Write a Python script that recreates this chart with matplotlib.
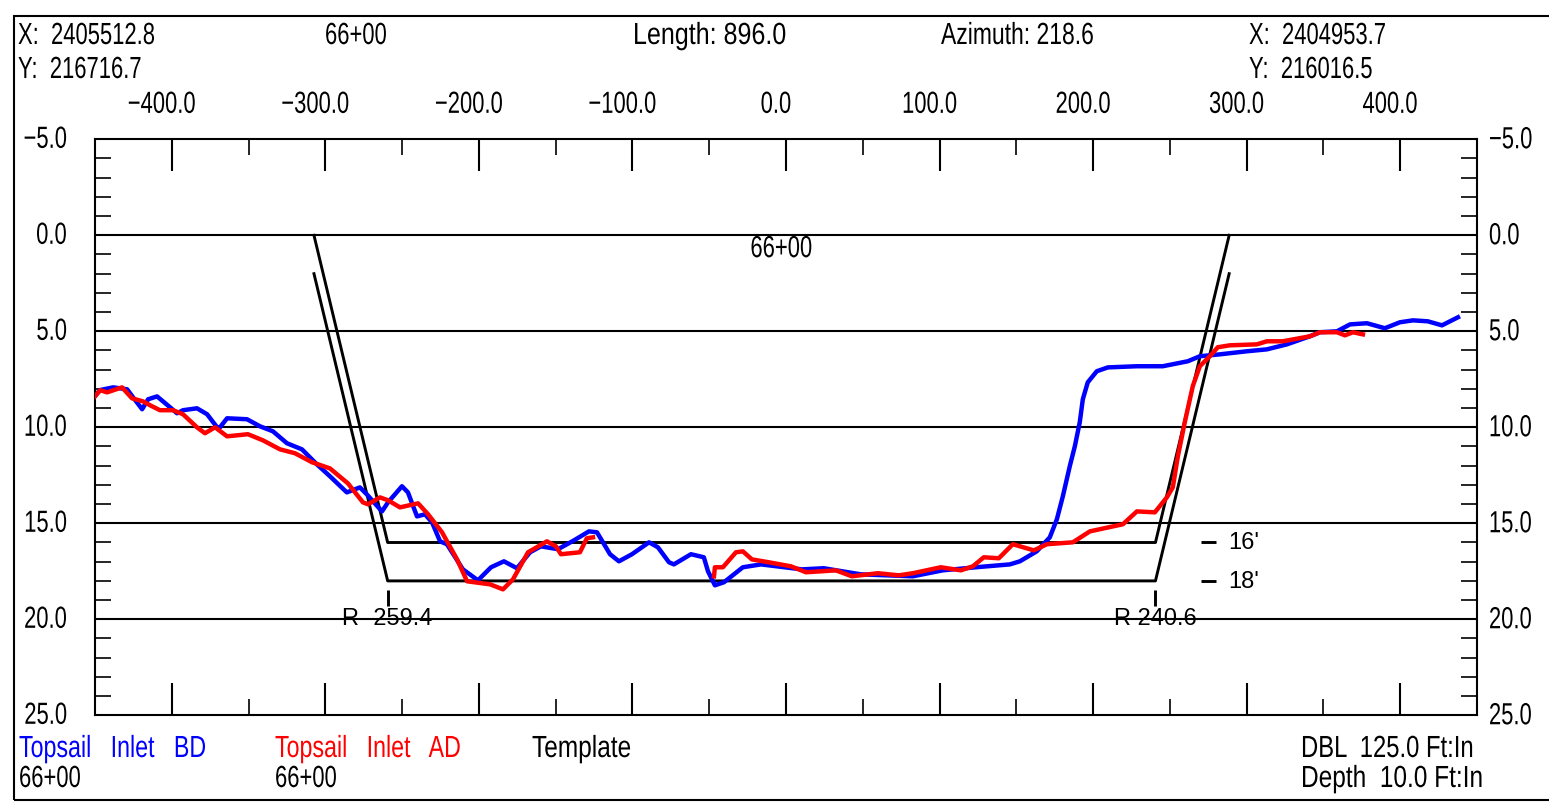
import matplotlib
matplotlib.use('Agg')
import numpy as np
import matplotlib.pyplot as plt
from matplotlib.patches import Rectangle
from matplotlib.patheffects import AbstractPathEffect
from matplotlib.transforms import Affine2D, ScaledTranslation

W, H = 1549, 803

# perfil antes del dragado (offset ft, depth ft)
bd_offset = [-450, -446.7, -438.2, -429.1, -425.2, -419.3, -415.4, -409.6, -405.7, -401.1, -396.6, -392.7,
             -383.6, -377.0, -370.5, -368.6, -364.0, -351.0, -342.5, -334.1, -325.0, -315.2, -305.5, -297.0,
             -286.0, -277.5, -273.0, -263.1, -259.2, -250.1, -246.2, -240.3, -235.1, -230.5, -225.3, -220.8,
             -210.4, -200.6, -192.1, -183.7, -175.2, -166.7, -159.6, -148.5, -138.1, -128.3, -123.1, -114.6,
             -108.8, -100.3, -89.2, -83.4, -76.2, -73.0, -61.9, -53.5, -50.8, -46.3, -40.4, -28.1, -16.3,
             10.3, 24.6, 48.8, 82.6, 102.1, 123.6, 145.8, 152.3, 163.3, 171.8, 176.4, 180.3, 184.8, 188.1,
             191.3, 193.3, 196.5, 202.4, 209.6, 228.5, 245.4, 261.7, 269.5, 282.6, 300.2, 313.2, 326.2,
             341.2, 347.7, 358.8, 367.3, 378.3, 390.0, 399.8, 408.3, 418.0, 427.2, 437.6]
bd_depth = [8.37, 8.06, 7.92, 8.02, 8.44, 9.06, 8.54, 8.39, 8.65, 8.96, 9.27, 9.11,
            9.01, 9.32, 10.0, 10.0, 9.53, 9.58, 9.95, 10.21, 10.83, 11.15, 11.93, 12.55,
            13.39, 13.13, 13.49, 14.38, 13.91, 13.07, 13.39, 14.64, 14.53, 14.95, 15.94, 16.09,
            17.40, 17.97, 17.29, 16.98, 17.34, 16.51, 16.20, 16.35, 15.89, 15.42, 15.47, 16.61,
            16.98, 16.61, 15.99, 16.25, 17.03, 17.14, 16.61, 16.77, 17.50, 18.23, 18.07, 17.29, 17.14,
            17.40, 17.34, 17.66, 17.76, 17.45, 17.29, 17.14, 16.98, 16.46, 15.73, 14.79, 13.59, 12.03, 10.99,
            9.74, 8.54, 7.66, 7.08, 6.88, 6.82, 6.82, 6.56, 6.30, 6.20, 6.04, 5.94, 5.68,
            5.26, 5.05, 5.0, 4.64, 4.58, 4.84, 4.53, 4.43, 4.48, 4.69, 4.27]

# perfil despues del dragado, con un hueco sin datos
ad_offset_left = [-450, -446.7, -442.1, -432.4, -425.9, -418.7, -414.2, -407.7, -399.2, -392.7, -383.6, -378.4,
                  -371.8, -364.0, -350.4, -340.6, -329.5, -319.8, -308.7, -297.0, -285.3, -275.5, -272.2,
                  -264.4, -259.2, -251.4, -239.6, -233.1, -224.0, -214.2, -207.7, -192.7, -184.3, -177.8,
                  -168.0, -155.7, -149.8, -146.6, -134.2, -129.7, -125.7]
ad_depth_left = [8.39, 8.07, 8.18, 7.92, 8.49, 8.65, 8.85, 9.11, 9.11, 9.32, 10.0, 10.31,
                 10.0, 10.47, 10.36, 10.68, 11.15, 11.35, 11.82, 12.14, 12.92, 13.91, 14.01,
                 13.65, 13.80, 14.17, 13.96, 14.53, 15.47, 16.88, 18.02, 18.18, 18.44, 17.92,
                 16.51, 15.94, 16.20, 16.61, 16.51, 15.78, 15.73]
ad_offset_right = [-46.9, -46.3, -41.1, -32.6, -28.1, -22.2, -11.2, 3.2, 13.0, 32.5, 42.9, 59.8, 73.5, 82.6,
                   100.8, 113.9, 121.7, 128.8, 138.6, 147.7, 161.4, 169.9, 186.8, 197.9, 219.4, 228.5, 240.2,
                   248.0, 251.9, 255.2, 259.7, 264.9, 269.5, 276.0, 281.2, 289.0, 306.6, 313.2, 323.6, 341.2,
                   347.7, 358.8, 364.0, 369.2, 375.7]
ad_depth_right = [17.76, 17.29, 17.29, 16.51, 16.46, 16.88, 17.03, 17.24, 17.55, 17.45, 17.76, 17.60, 17.71, 17.60,
                  17.29, 17.45, 17.24, 16.77, 16.82, 16.09, 16.41, 16.09, 15.99, 15.42, 15.05, 14.38, 14.43,
                  13.65, 13.13, 11.51, 9.74, 7.86, 6.82, 6.30, 5.83, 5.73, 5.68, 5.52, 5.52, 5.26,
                  5.05, 5.05, 5.21, 5.05, 5.16]

# plantilla del canal
template_offset = [-307.4, -259.4, 240.6, 288.6]
template_16 = [0, 16, 16, 0]
template_18 = [2, 18, 18, 2]
grid_depths = [0, 5, 10, 15, 20]

x_major = [-400, -300, -200, -100, 0, 100, 200, 300, 400]
x_minor = [-350, -250, -150, -50, 50, 150, 250, 350]
x_labels = ['\u2212400.0', '\u2212300.0', '\u2212200.0', '\u2212100.0', '0.0', '100.0', '200.0', '300.0', '400.0']
y_major = [-5, 0, 5, 10, 15, 20, 25]
y_labels = ['\u22125.0', '0.0', '5.0', '10.0', '15.0', '20.0', '25.0']
y_minor = [d for d in range(-5, 26) if d % 5 != 0]

CAD_FONT = ['Liberation Sans', 'DejaVu Sans']
CAD_SIZE = 22
BLUE, RED = '#0000ff', '#ff0000'


class Squeeze(AbstractPathEffect):
    # estrecha el texto en horizontal, no hay fuente condensada instalada
    def __init__(self, factor, anchor='left'):
        super().__init__()
        self.factor = factor
        self.anchor = anchor

    def draw_path(self, renderer, gc, tpath, affine, rgbFace=None):
        ext = tpath.get_extents()
        ref = {'left': 0, 'center': (ext.x0 + ext.x1) / 2, 'right': ext.x1}[self.anchor]
        squeeze = Affine2D().translate(-ref, 0).scale(self.factor, 1).translate(ref, 0)
        renderer.draw_path(gc, tpath, squeeze + affine, rgbFace)


def label(fig, x, y, text, color='black', factor=0.72):
    # texto de cabecera y pie, x/y en pixeles desde arriba a la izquierda
    t = fig.text(x / W, 1 - y / H, text, color=color, ha='left', va='center',
                 family=CAD_FONT, fontsize=CAD_SIZE)
    t.set_path_effects([Squeeze(factor, 'left')])


def main():
    fig = plt.figure(figsize=(W / 100, H / 100), dpi=100)
    fig.add_artist(Rectangle((14.3 / W, 1 - 800.7 / H), 1560 / W, 784.2 / H, transform=fig.transFigure,
                             fill=False, edgecolor='black', linewidth=1.5))

    ax = fig.add_axes([95 / W, 1 - 716.3 / H, 1382 / W, 576 / H])
    ax.set_xlim(-450, 450)
    ax.set_ylim(25, -5)
    for s in ax.spines.values():
        s.set_linewidth(1.5)

    ax.hlines(grid_depths, -450, 450, color='black', linewidth=1.5, zorder=1)
    ax.plot(template_offset, template_16, color='black', linewidth=2.1, zorder=2)
    ax.plot(template_offset, template_18, color='black', linewidth=2.1, zorder=2)

    ax.plot(bd_offset, bd_depth, color=BLUE, linewidth=3.2, zorder=3, solid_joinstyle='round')
    ax.plot(ad_offset_left, ad_depth_left, color=RED, linewidth=3.2, zorder=4, solid_joinstyle='round')
    ax.plot(ad_offset_right, ad_depth_right, color=RED, linewidth=3.2, zorder=4, solid_joinstyle='round')

    # marcas de los bordes del canal
    ax.vlines([-259.4, 240.6], 18.45, 19.3, color='black', linewidth=2.1)
    ax.text(-259.4, 19.95, 'R -259.4', ha='center', va='center', family='Liberation Sans', fontsize=17, zorder=5)
    ax.text(240.6, 19.95, 'R 240.6', ha='center', va='center', family='Liberation Sans', fontsize=17, zorder=5)
    t = ax.text(-3, 0.72, '66+00', ha='center', va='center', family=CAD_FONT, fontsize=CAD_SIZE)
    t.set_path_effects([Squeeze(0.72, 'center')])

    ax.hlines([16, 18], 270, 280, color='black', linewidth=2.1)
    ax.text(288, 16, "16'", ha='left', va='center', family='Liberation Sans', fontsize=17)
    ax.text(288, 18, "18'", ha='left', va='center', family='Liberation Sans', fontsize=17)

    # ejes
    ax.xaxis.tick_top()
    ax.set_xticks(x_major)
    ax.set_xticklabels(x_labels, family=CAD_FONT, fontsize=CAD_SIZE)
    ax.set_xticks(x_minor, minor=True)
    ax.tick_params(axis='x', which='major', direction='in', length=23, width=1.5, top=True, bottom=True, pad=14)
    ax.tick_params(axis='x', which='minor', direction='in', length=11.5, width=1.2, top=True, bottom=True)
    shift = ScaledTranslation(-0.10, 0, fig.dpi_scale_trans)
    for t in ax.get_xticklabels():
        t.set_transform(t.get_transform() + shift)
        t.set_path_effects([Squeeze(0.72, 'center')])

    ax.set_yticks(y_major)
    ax.set_yticklabels(y_labels, family=CAD_FONT, fontsize=CAD_SIZE)
    ax.set_yticks(y_minor, minor=True)
    ax.tick_params(axis='y', which='major', length=0, pad=20, labelleft=True, labelright=False)
    ax.tick_params(axis='y', which='minor', direction='in', length=11.5, width=1.2, left=True, right=True)
    up = ScaledTranslation(0, -0.005, fig.dpi_scale_trans)
    for t in ax.get_yticklabels():
        t.set_va('center')
        t.set_transform(t.get_transform() + up)
        t.set_path_effects([Squeeze(0.72, 'right')])

    # etiquetas de la derecha
    for d, s in zip(y_major, y_labels):
        t = ax.annotate(s, (1, d), xycoords=ax.get_yaxis_transform(), xytext=(8.6, -0.7),
                        textcoords='offset points', ha='left', va='center', family=CAD_FONT, fontsize=CAD_SIZE)
        t.set_path_effects([Squeeze(0.72, 'left')])

    # cabecera
    label(fig, 18, 37, 'X:  2405512.8')
    label(fig, 18, 71, 'Y:  216716.7')
    label(fig, 325, 37, '66+00')
    label(fig, 633, 37, 'Length: 896.0', factor=0.82)
    label(fig, 941, 37, 'Azimuth: 218.6', factor=0.75)
    label(fig, 1249, 37, 'X:  2404953.7')
    label(fig, 1249, 71, 'Y:  216016.5')

    # pie
    label(fig, 19, 750, 'Topsail   Inlet   BD', color=BLUE, factor=0.76)
    label(fig, 275, 750, 'Topsail   Inlet   AD', color=RED, factor=0.76)
    label(fig, 532, 750, 'Template', factor=0.8)
    label(fig, 19, 780, '66+00')
    label(fig, 275, 780, '66+00')
    label(fig, 1301, 750, 'DBL  125.0 Ft:In', factor=0.78)
    label(fig, 1301, 780, 'Depth  10.0 Ft:In', factor=0.8)

    fig.savefig('out.png', dpi=100)


if __name__ == '__main__':
    main()
